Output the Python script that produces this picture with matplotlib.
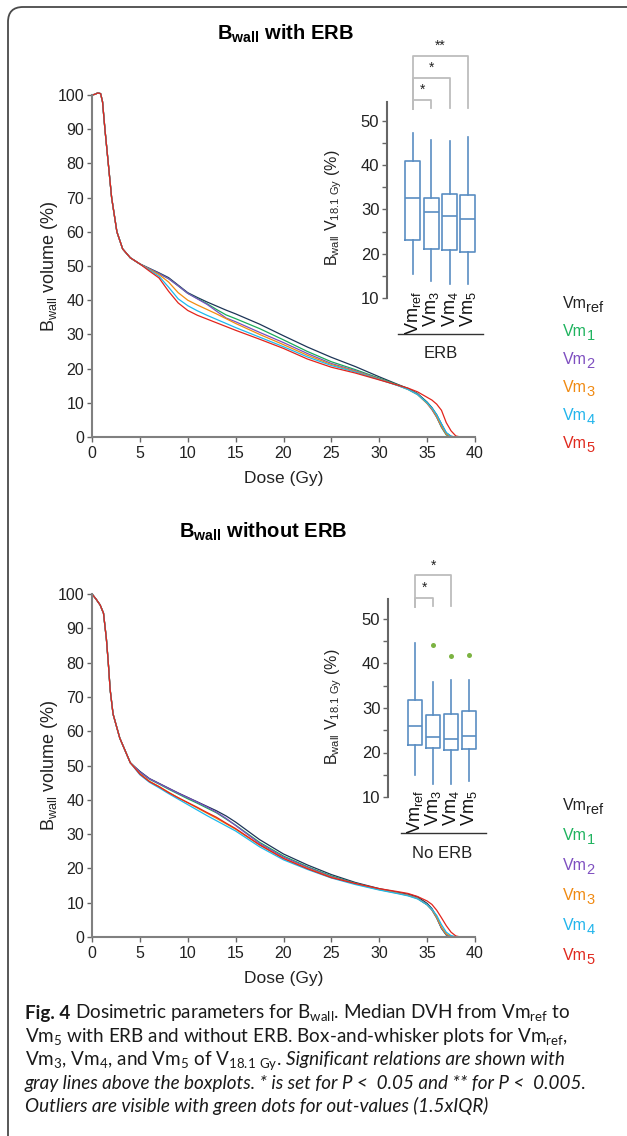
import matplotlib
matplotlib.use("Agg")
import matplotlib.pyplot as plt
from matplotlib.patches import FancyBboxPatch

W, H = 627, 1136

# ---- DVH data (median curves) ----
series = ["ref", "1", "2", "3", "4", "5"]
line_colors = ["#1d3557", "#1aab5a", "#7b4fbf", "#f28c0f", "#1cb8ee", "#e3241b"]
text_colors = ["#222222", "#1fb35f", "#7e4fc0", "#f08a12", "#22b5ec", "#e02a1e"]

# with ERB
dose_erb = [0, 0.3, 0.6, 0.9, 1.1, 1.35, 1.7, 2.05, 2.6, 3.2, 4, 5,
            6, 7, 8, 9, 10, 11, 12, 13, 14, 15, 17.5, 20, 22.5, 25, 27.5, 30,
            32, 33, 34, 35, 35.5, 36, 36.5, 37, 37.5, 38, 38.5, 39]
start_erb = [100, 100.2, 100.6, 100.4, 98, 90, 80, 70, 60, 55, 52.4, 50.6]
vm_ref_erb = start_erb + [49.3, 48.0, 46.6, 44.4, 42.2, 40.8, 39.5, 38.3, 37.1, 36.0, 33.0, 29.6, 26.3, 23.3, 20.6, 17.6,
                          15.3, 14.2, 12.7, 10.2, 8.6, 6.5, 3.8, 1.2, 0.2, 0, 0, 0]
vm1_erb = start_erb + [49.2, 47.8, 46.3, 44.2, 42.0, 40.5, 39.0, 37.3, 35.7, 34.6, 31.7, 28.4, 25.0, 22.0, 19.7, 17.2,
                       15.2, 14.1, 12.6, 10.0, 8.2, 5.8, 2.8, 0.6, 0, 0, 0, 0]
vm2_erb = start_erb + [49.2, 47.8, 46.3, 44.2, 42.0, 40.4, 38.8, 36.8, 34.8, 33.7, 30.6, 27.6, 24.4, 21.5, 19.4, 17.0,
                       15.0, 14.0, 12.5, 9.8, 8.0, 5.8, 3.0, 0.8, 0.1, 0, 0, 0]
vm3_erb = start_erb + [49.0, 47.5, 45.3, 42.2, 40.0, 38.6, 37.3, 36.0, 34.6, 33.2, 30.0, 27.0, 23.9, 21.2, 19.2, 16.9,
                       15.0, 13.9, 12.4, 9.8, 8.2, 6.0, 3.2, 0.9, 0.1, 0, 0, 0]
vm4_erb = start_erb + [48.8, 47.0, 43.8, 40.4, 38.4, 36.9, 35.6, 34.4, 33.2, 32.0, 29.2, 26.4, 23.4, 20.9, 19.0, 16.8,
                       15.0, 13.9, 12.4, 10.0, 8.5, 6.5, 3.8, 1.3, 0.2, 0, 0, 0]
vm5_erb = start_erb + [48.5, 46.5, 42.6, 39.2, 37.0, 35.6, 34.5, 33.4, 32.3, 31.2, 28.6, 25.9, 22.8, 20.4, 18.7, 16.7,
                       15.1, 14.3, 13.2, 11.6, 10.8, 9.6, 7.8, 4.2, 1.8, 0.3, 0, 0]

# without ERB
dose_noerb = [0, 0.4, 0.85, 1.2, 1.5, 1.7, 1.9, 2.2, 2.9, 4,
              5, 6, 7, 8, 9, 10, 11, 12, 13, 14, 15, 17.5, 20, 22.5, 25, 27.5, 30,
              32, 33, 34, 35, 35.5, 36, 36.5, 37, 37.5, 38, 38.5, 39]
start_noerb = [100, 98.6, 96.8, 94.4, 87, 80, 72, 65, 58, 50.8]
vm_ref_noerb = start_noerb + [48.3, 46.2, 44.8, 43.4, 42.0, 40.7, 39.4, 38.1, 36.8, 35.3, 33.5, 28.4, 24.2, 21.0, 18.2,
                              15.9, 14.1, 13.0, 12.5, 11.7, 9.8, 8.3, 5.8, 2.6, 0.6, 0.1, 0, 0, 0]
vm1_noerb = start_noerb + [48.0, 46.0, 44.6, 43.1, 41.7, 40.3, 39.0, 37.6, 36.2, 34.4, 32.6, 27.6, 23.6, 20.5, 17.8,
                           15.7, 13.9, 12.8, 12.2, 11.3, 9.4, 7.9, 5.5, 2.5, 0.6, 0.1, 0, 0, 0]
vm2_noerb = start_noerb + [48.1, 46.1, 44.7, 43.3, 41.9, 40.6, 39.3, 37.9, 36.4, 34.6, 32.5, 27.3, 23.3, 20.3, 17.6,
                           15.6, 13.9, 12.8, 12.2, 11.3, 9.4, 7.9, 5.6, 2.6, 0.7, 0.1, 0, 0, 0]
vm3_noerb = start_noerb + [47.6, 45.4, 43.9, 42.2, 40.6, 39.1, 37.6, 36.1, 34.6, 33.0, 31.4, 26.8, 22.9, 20.0, 17.4,
                           15.5, 13.8, 12.7, 12.1, 11.2, 9.4, 8.0, 5.8, 2.9, 0.9, 0.2, 0, 0, 0]
vm4_noerb = start_noerb + [47.3, 45.1, 43.5, 41.8, 40.2, 38.6, 37.0, 35.4, 33.9, 32.4, 30.9, 26.3, 22.5, 19.7, 17.2,
                           15.3, 13.7, 12.6, 12.0, 11.1, 9.4, 8.1, 6.3, 3.6, 1.4, 0.4, 0.1, 0, 0]
vm5_noerb = start_noerb + [47.5, 45.3, 43.8, 42.1, 40.6, 39.2, 37.8, 36.3, 34.9, 33.2, 31.6, 26.9, 22.9, 19.9, 17.3,
                           15.6, 14.1, 13.2, 12.7, 11.8, 10.5, 9.5, 7.8, 5.6, 3.3, 1.4, 0.3, 0, 0]

# ---- V18.1Gy box plot summaries: whislo, q1, med, q3, whishi ----
box_labels = ["ref", "3", "4", "5"]
erb_whislo = [15.5, 13.8, 13.2, 13.1]
erb_q1 = [23.2, 21.1, 20.85, 20.4]
erb_med = [32.6, 29.4, 28.5, 27.9]
erb_q3 = [41.0, 32.7, 33.4, 33.2]
erb_whishi = [47.4, 45.6, 45.5, 46.4]
erb_fliers = [[], [], [], []]
erb_sig = [(0, 1, "*"), (0, 2, "*"), (0, 3, "**")]

noerb_whislo = [14.9, 13.0, 13.0, 13.5]
noerb_q1 = [21.6, 21.1, 20.5, 20.7]
noerb_med = [26.0, 23.4, 23.1, 23.8]
noerb_q3 = [31.9, 28.35, 28.6, 29.3]
noerb_whishi = [44.7, 35.8, 36.2, 36.3]
noerb_fliers = [[], [44.2], [41.6], [42.0]]
noerb_sig = [(0, 1, "*"), (0, 2, "*")]


def fx(px):
    return px / W


def fy(py):
    return 1 - py / H


SANS = "Liberation Sans"
plt.rcParams["font.family"] = SANS
plt.rcParams["mathtext.fontset"] = "custom"
plt.rcParams["mathtext.rm"] = SANS

fig = plt.figure(figsize=(W / 100, H / 100), dpi=100)
renderer = fig.canvas.get_renderer()

# rounded frame around the figure
frame = FancyBboxPatch((0.08, -1.0), 7.0, 12.29, boxstyle="round,pad=0,rounding_size=0.15",
                       transform=fig.dpi_scale_trans, fc="none", ec="#4a4a4a", lw=1.3)
fig.add_artist(frame)


def dvh_panel(top, bottom, dose, curves):
    ax = fig.add_axes([fx(92), fy(bottom), fx(475) - fx(92), (bottom - top) / H])
    for vals, c in zip(curves, line_colors):
        ax.plot(dose, vals, color=c, lw=0.9, clip_on=False)
    ax.set_xlim(0, 40)
    ax.set_ylim(0, 100)
    ax.set_xticks(range(0, 41, 5))
    ax.set_yticks(range(0, 101, 10))
    for s in ["top", "right"]:
        ax.spines[s].set_visible(False)
    for s in ["left", "bottom"]:
        ax.spines[s].set_color("#808080")
        ax.spines[s].set_linewidth(1.5)
    ax.tick_params(colors="#666666", labelcolor="#222222", labelsize=11.5, length=3.5, width=1)
    ax.tick_params(axis="x", pad=3)
    ax.tick_params(axis="y", pad=2)
    ax.set_xlabel("Dose (Gy)", fontsize=12.5, color="#222222")
    ax.xaxis.set_label_coords(0.5, -0.098)
    ax.set_ylabel(r"B$_{\mathregular{wall}}$ volume (%)", fontsize=13, color="#222222")
    ax.yaxis.set_label_coords(-0.083, 0.5)
    return ax


def box_inset(left, right, y10, y50, xlim, stats, fliers, sig, group, line_x):
    ppu = (y10 - y50) / 40.0
    top = y10 - 56 * ppu
    ax = fig.add_axes([fx(left), fy(y10), fx(right) - fx(left), (y10 - top) / H])
    whislo, q1, med, q3, whishi = stats
    bstats = []
    for i in range(4):
        bstats.append(dict(whislo=whislo[i], q1=q1[i], med=med[i], q3=q3[i], whishi=whishi[i],
                           fliers=fliers[i]))
    bc = "#5a8dc2"
    ax.bxp(bstats, positions=[1, 2, 3, 4], widths=0.82, showcaps=False,
           boxprops=dict(color=bc, lw=1.2), whiskerprops=dict(color=bc, lw=1.2),
           medianprops=dict(color=bc, lw=1.2),
           flierprops=dict(marker="o", mfc="#7cb342", mec="none", ms=3.6))
    ax.set_xlim(*xlim)
    ax.set_ylim(10, 66)
    for s in ["top", "right", "bottom"]:
        ax.spines[s].set_visible(False)
    ax.spines["left"].set_bounds(10, 54.4)
    ax.spines["left"].set_color("#666666")
    ax.spines["left"].set_linewidth(1.5)
    ax.set_yticks([10, 20, 30, 40, 50])
    ax.set_yticks([15, 25, 35, 45], minor=True)
    ax.tick_params(axis="y", which="both", colors="#666666", labelcolor="#222222",
                   labelsize=12, length=3.5, width=1, pad=2)
    ax.set_xticks([1, 2, 3, 4])
    ax.set_xticklabels([r"Vm$_{\mathregular{%s}}$" % l for l in box_labels], rotation=90, fontsize=13,
                       color="#111111")
    ax.tick_params(axis="x", length=0, pad=-5)
    ax.set_ylabel(r"B$_{\mathregular{wall}}$ V$_{\mathregular{18.1\ Gy}}$ (%)", fontsize=11.5, color="#222222")
    ax.yaxis.set_label_coords(-0.45, 0.363)
    # group line + label under the tick labels
    ax.plot(line_x, [-0.145, -0.145], color="#333333", lw=1.0, transform=ax.get_xaxis_transform(),
            clip_on=False)
    ax.text(2.5, -0.225, group, transform=ax.get_xaxis_transform(), ha="center", va="center",
            fontsize=12, color="#222222")
    # significance brackets
    for k, (i, j, lab) in enumerate(sig):
        yb = 54.8 + 5.0 * k
        xi, xj = i + 1, j + 1
        ax.plot([xi, xi, xj, xj], [52.7, yb, yb, 52.9], color="#bdbdbd", lw=1.3, clip_on=False)
        ax.text((xi + xj) / 2, yb + 0.6, lab, ha="center", va="bottom", fontsize=10, color="#222222")
    return ax


def legend(x, base0, step):
    for k, (s, c) in enumerate(zip(series, text_colors)):
        yb = base0 + k * step
        t = fig.text(fx(x), fy(yb), "Vm", color=c, fontsize=11.5, ha="left", va="baseline")
        w = t.get_window_extent(renderer).width
        fig.text(fx(x + w - 0.5), fy(yb + 4), s, color=c, fontsize=10.5, ha="left", va="baseline")


# ---- top: with ERB ----
fig.text(fx(285), fy(34), r"B$_{\mathregular{wall}}$ with ERB", fontsize=14.5, fontweight="bold",
         ha="center", va="center")
dvh_panel(95, 437, dose_erb, [vm_ref_erb, vm1_erb, vm2_erb, vm3_erb, vm4_erb, vm5_erb])
box_inset(387, 483, 298, 121, (-0.42, 4.83), (erb_whislo, erb_q1, erb_med, erb_q3, erb_whishi),
          erb_fliers, erb_sig, "ERB", [0.18, 4.83])
legend(563, 308, 28.1)

# ---- bottom: without ERB ----
fig.text(fx(263), fy(532), r"B$_{\mathregular{wall}}$ without ERB", fontsize=14.5, fontweight="bold",
         ha="center", va="center")
dvh_panel(594, 937, dose_noerb, [vm_ref_noerb, vm1_noerb, vm2_noerb, vm3_noerb, vm4_noerb, vm5_noerb])
box_inset(388, 486, 797, 619, (-0.5, 4.94),
          (noerb_whislo, noerb_q1, noerb_med, noerb_q3, noerb_whishi),
          noerb_fliers, noerb_sig, "No ERB", [0.22, 4.94])
legend(563, 810, 30.1)

# ---- caption ----
CAP = "Lato"
cap_size = 13.6


def text_w(s, **kw):
    t = fig.text(0, 0, s, fontsize=cap_size, family=CAP, **kw)
    w = t.get_window_extent(renderer).width
    t.remove()
    return w


space_w = text_w("a a") - text_w("aa")


def draw_runs(x, y, runs):
    for s, style in runs:
        st = s.rstrip(" ")
        t = fig.text(fx(x), fy(y), st, fontsize=cap_size, family=CAP, ha="left", va="baseline",
                     color="#1a1a1a", **style)
        x += t.get_window_extent(renderer).width + space_w * (len(s) - len(st))


normal = {}
bold = {"fontweight": "bold"}
ital = {"fontstyle": "italic"}
caption = [
    [("Fig. 4 ", bold),
     (r"Dosimetric parameters for B$_{\mathregular{wall}}$. Median DVH from Vm$_{\mathregular{ref}}$ to", normal)],
    [(r"Vm$_{\mathregular{5}}$ with ERB and without ERB. Box-and-whisker plots for Vm$_{\mathregular{ref}}$,",
      normal)],
    [(r"Vm$_{\mathregular{3}}$, Vm$_{\mathregular{4}}$, and Vm$_{\mathregular{5}}$ of "
      r"V$_{\mathregular{18.1\ Gy}}$. ", normal),
     ("Significant relations are shown with", ital)],
    [("gray lines above the boxplots. * is set for P <  0.05 and ** for P <  0.005.", ital)],
    [("Outliers are visible with green dots for out-values (1.5xIQR)", ital)],
]
for n, runs in enumerate(caption):
    draw_runs(25, 1019 + 23.2 * n, runs)

fig.savefig("out.png", dpi=100)
